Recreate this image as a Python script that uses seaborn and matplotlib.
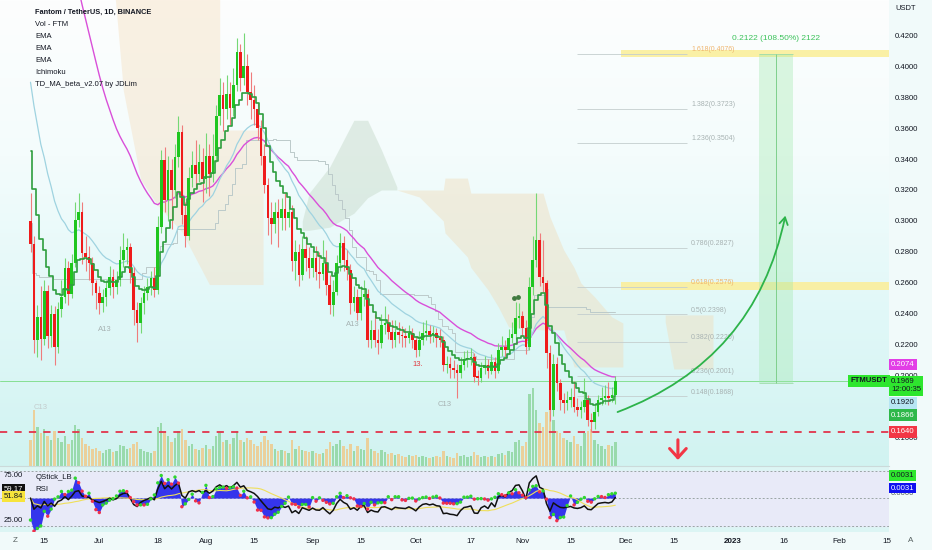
import numpy as np
import pandas as pd
import matplotlib
matplotlib.use("Agg")
import matplotlib.pyplot as plt
import matplotlib.dates as mdates
from matplotlib.colors import LinearSegmentedColormap
from matplotlib.patches import FancyArrowPatch
import seaborn as sns

# ---- values (FTM/USDT daily, Binance) ----
first_day = "2022-06-11"
first_open = 0.300

closes = [
    0.285, 0.223, 0.238, 0.224, 0.255, 0.226, 0.240, 0.219, 0.243, 0.251,
    0.2695, 0.253, 0.2727, 0.3006, 0.306, 0.2793, 0.277, 0.2727, 0.2598, 0.2533,
    0.2469, 0.2512, 0.2565, 0.2641, 0.2576, 0.262, 0.2748, 0.2813, 0.283, 0.2662,
    0.2426, 0.234, 0.2469, 0.2533, 0.2576, 0.263, 0.2555, 0.2963, 0.3393, 0.3135,
    0.3329, 0.320, 0.3415, 0.3576, 0.304, 0.290, 0.3276, 0.336, 0.330, 0.338,
    0.327, 0.342, 0.330, 0.342, 0.368, 0.381, 0.372, 0.382, 0.373, 0.388,
    0.409, 0.392, 0.400, 0.383, 0.378, 0.372, 0.360, 0.342, 0.323, 0.302,
    0.298, 0.306, 0.302, 0.308, 0.302, 0.306, 0.274, 0.280, 0.265, 0.282,
    0.276, 0.2695, 0.2759, 0.2673, 0.266, 0.2727, 0.2587, 0.2458, 0.2544, 0.2727,
    0.2856, 0.2748, 0.2684, 0.2469, 0.2512, 0.2405, 0.2512, 0.2527, 0.2232, 0.2297,
    0.2232, 0.221, 0.2329, 0.234, 0.2286, 0.2232, 0.2286, 0.2265, 0.2255, 0.2245,
    0.2275, 0.2232, 0.2168, 0.2232, 0.2275, 0.2287, 0.2262, 0.2275, 0.2243, 0.2235,
    0.207, 0.2075, 0.2049, 0.204, 0.2017, 0.2071, 0.2107, 0.2114, 0.2125, 0.1996,
    0.199, 0.205, 0.207, 0.2029, 0.2093, 0.203, 0.2168, 0.219, 0.2168, 0.2243,
    0.227, 0.2372, 0.2385, 0.231, 0.219, 0.2576, 0.2748, 0.2877, 0.2641, 0.260,
    0.215, 0.178, 0.208, 0.1953, 0.1845, 0.1824, 0.1845, 0.1866, 0.180, 0.178,
    0.180, 0.1845, 0.1716, 0.170, 0.177, 0.1845, 0.186, 0.187, 0.1855, 0.1875,
    0.1969,
]

highs = [
    0.318, 0.290, 0.246, 0.258, 0.262, 0.259, 0.246, 0.245, 0.248, 0.262,
    0.276, 0.274, 0.279, 0.312, 0.318, 0.312, 0.290, 0.284, 0.277, 0.262,
    0.258, 0.256, 0.262, 0.271, 0.269, 0.268, 0.284, 0.292, 0.289, 0.286,
    0.270, 0.248, 0.251, 0.258, 0.263, 0.268, 0.270, 0.303, 0.346, 0.348,
    0.342, 0.340, 0.350, 0.368, 0.362, 0.312, 0.335, 0.345, 0.352, 0.350,
    0.347, 0.357, 0.350, 0.356, 0.375, 0.392, 0.390, 0.394, 0.390, 0.399,
    0.418, 0.414, 0.421, 0.408, 0.396, 0.388, 0.376, 0.365, 0.350, 0.328,
    0.312, 0.312, 0.314, 0.315, 0.318, 0.314, 0.310, 0.288, 0.285, 0.290,
    0.290, 0.283, 0.282, 0.284, 0.280, 0.288, 0.281, 0.265, 0.262, 0.278,
    0.292, 0.290, 0.281, 0.272, 0.258, 0.256, 0.258, 0.262, 0.256, 0.236,
    0.240, 0.230, 0.240, 0.245, 0.240, 0.236, 0.236, 0.235, 0.232, 0.231,
    0.233, 0.231, 0.226, 0.229, 0.235, 0.236, 0.233, 0.232, 0.231, 0.230,
    0.226, 0.213, 0.212, 0.210, 0.208, 0.212, 0.216, 0.217, 0.218, 0.215,
    0.204, 0.209, 0.213, 0.211, 0.214, 0.212, 0.221, 0.226, 0.223, 0.230,
    0.235, 0.248, 0.247, 0.242, 0.236, 0.264, 0.290, 0.318, 0.292, 0.288,
    0.262, 0.220, 0.214, 0.212, 0.198, 0.189, 0.190, 0.192, 0.197, 0.186,
    0.184, 0.199, 0.188, 0.176, 0.181, 0.188, 0.193, 0.194, 0.196, 0.193,
    0.200,
]

lows = [
    0.280, 0.215, 0.212, 0.210, 0.220, 0.218, 0.219, 0.207, 0.215, 0.238,
    0.247, 0.246, 0.250, 0.270, 0.296, 0.272, 0.268, 0.262, 0.252, 0.243,
    0.240, 0.241, 0.245, 0.252, 0.250, 0.253, 0.258, 0.270, 0.272, 0.260,
    0.233, 0.222, 0.228, 0.240, 0.249, 0.252, 0.251, 0.253, 0.292, 0.306,
    0.300, 0.295, 0.315, 0.335, 0.298, 0.283, 0.288, 0.322, 0.321, 0.325,
    0.312, 0.318, 0.316, 0.325, 0.338, 0.362, 0.358, 0.366, 0.362, 0.368,
    0.384, 0.384, 0.388, 0.375, 0.366, 0.362, 0.352, 0.336, 0.318, 0.291,
    0.285, 0.292, 0.283, 0.294, 0.294, 0.296, 0.268, 0.262, 0.258, 0.262,
    0.268, 0.263, 0.264, 0.262, 0.257, 0.262, 0.252, 0.240, 0.239, 0.252,
    0.268, 0.268, 0.262, 0.240, 0.242, 0.236, 0.236, 0.245, 0.219, 0.218,
    0.219, 0.214, 0.218, 0.227, 0.224, 0.218, 0.219, 0.221, 0.219, 0.219,
    0.221, 0.218, 0.212, 0.213, 0.220, 0.223, 0.221, 0.222, 0.219, 0.219,
    0.203, 0.202, 0.199, 0.199, 0.186, 0.199, 0.204, 0.206, 0.207, 0.196,
    0.194, 0.196, 0.201, 0.199, 0.201, 0.199, 0.202, 0.213, 0.212, 0.215,
    0.221, 0.224, 0.231, 0.226, 0.214, 0.217, 0.252, 0.270, 0.258, 0.254,
    0.205, 0.171, 0.174, 0.190, 0.178, 0.176, 0.178, 0.180, 0.177, 0.174,
    0.173, 0.177, 0.168, 0.164, 0.166, 0.174, 0.181, 0.182, 0.181, 0.183,
    0.182,
]

# volume in millions FTM
volumes = [
    120, 260, 180, 150, 170, 140, 120, 160, 130, 110, 140, 100, 120, 190, 170, 130, 100, 90, 80, 85,
    70, 60, 75, 80, 65, 70, 95, 90, 80, 85, 100, 110, 80, 70, 65, 60, 70, 180, 200, 150,
    140, 110, 130, 160, 170, 120, 90, 100, 80, 75, 85,
    95, 80, 90, 140, 150, 110, 120, 100, 130, 160, 120, 110, 130, 120, 100, 90, 110, 140, 120, 100,
    80, 70, 75, 70, 60, 120, 80, 90, 75, 70, 65,
    70, 60, 55, 60, 80, 110, 90, 100, 120, 90, 80, 100, 70, 90, 80, 75, 130, 80, 70, 60,
    75, 65, 55, 60, 50, 55, 45, 40, 50, 45,
    50, 40, 45, 40, 35, 40, 45, 40, 70, 45, 40, 35, 60, 45, 50, 40, 45, 65, 50, 40,
    45, 40, 45, 40, 55, 60, 50, 70, 65, 110, 120,
    90, 110, 330, 360, 260, 200, 180, 250, 270, 210, 160, 150, 130, 120, 110, 140, 100, 90, 150, 160,
    170, 120, 100, 90, 80, 95, 90, 110,
]

# where each moving average enters the chart at the left edge
ema_slow_start = 0.72
ema_fast_start = 0.40
td_start = 0.36
rsi_seed = 0.008

# ichimoku cloud outline (days after first_day, upper, lower)
cloud1_day = [24, 27, 32, 37, 44, 52, 55, 55, 67.6]
cloud1_top = [0.47, 0.47, 0.47, 0.47, 0.47, 0.47, 0.47, 0.3587, 0.3587]
cloud1_bot = [0.46, 0.384, 0.327, 0.31, 0.293, 0.259, 0.259, 0.259, 0.259]

cloud2_day = [79, 81, 87, 94, 98, 102, 106.5]
cloud2_top = [0.300, 0.318, 0.335, 0.365, 0.365, 0.346, 0.322]
cloud2_bot = [0.294, 0.294, 0.296, 0.305, 0.315, 0.320, 0.320]

cloud3_day = [106.5, 113, 120, 120.5, 127, 128, 133, 136, 139, 149, 151, 155, 158, 160, 164, 169, 172.2]
cloud3_top = [0.320, 0.320, 0.320, 0.3277, 0.3277, 0.318, 0.318, 0.318, 0.318, 0.318,
              0.3026, 0.2813, 0.270, 0.260, 0.251, 0.2381, 0.2342]
cloud3_bot = [0.320, 0.3155, 0.300, 0.2923, 0.2768, 0.270, 0.2555, 0.2445, 0.2316, 0.2297,
              0.2297, 0.2297, 0.2058, 0.2058, 0.2058, 0.2058, 0.2058]

cloud4_day = [184.5, 187, 198.4]
cloud4_top = [0.2394, 0.2394, 0.2394]
cloud4_bot = [0.235, 0.2045, 0.2045]

fib_names = ["1.618", "1.382", "1.236", "0.786", "0.618", "0.5", "0.382", "0.236", "0.148"]
fib_prices = [0.4076, 0.3723, 0.3504, 0.2827, 0.2576, 0.2398, 0.2220, 0.2001, 0.1868]

price_ticks = [0.16, 0.18, 0.20, 0.22, 0.24, 0.26, 0.28, 0.30, 0.32, 0.34, 0.36, 0.38, 0.40, 0.42]
hidden_ticks = [0.18]  # fully covered by the price tags in the chart
date_ticks = ["2022-06-15", "2022-07-01", "2022-07-18", "2022-08-01", "2022-08-15", "2022-09-01",
              "2022-09-15", "2022-10-01", "2022-10-17", "2022-11-01", "2022-11-15", "2022-12-01",
              "2022-12-15", "2023-01-01", "2023-01-16", "2023-02-01", "2023-02-15"]
date_labels = ["15", "Jul", "18", "Aug", "15", "Sep", "15", "Oct", "17", "Nov", "15", "Dec",
               "15", "2023", "16", "Feb", "15"]

support_price = 0.1640
last_price = 0.1969
target_low, target_high = 0.1955, 0.4076

# right-scale tags: text, level on the scale where the tag sits, colours
price_tags = [("0.2074", 0.2074, "#e23ee6", "white"),
              ("0.1920", 0.1826, "#b7e6f4", "#131722"),
              ("0.1866", 0.1748, "#2fb84a", "white"),
              ("0.1640", 0.1640, "#f23645", "white")]

# ---- indicators ----
df = pd.DataFrame({"close": closes, "high": highs, "low": lows, "volume": volumes})
df["date"] = pd.date_range(first_day, periods=len(df), freq="D")
df["open"] = df["close"].shift(1).fillna(first_open)
df["x"] = mdates.date2num(df["date"])
d0 = df["x"].iloc[0]
x = df["x"].to_numpy()
up = (df["close"] >= df["open"]).to_numpy()


def seeded_ema(values, span, start):
    s = pd.Series([start] + list(values))
    return s.ewm(span=span, adjust=False).mean().to_numpy()[1:]


ema_slow = seeded_ema(df["close"], 34, ema_slow_start)
ema_fast = seeded_ema(df["close"], 21, ema_fast_start)
td_line = seeded_ema(df["close"], 9, td_start)
kijun = ((df["high"].rolling(26, min_periods=1).max() + df["low"].rolling(26, min_periods=1).min()) / 2).to_numpy()

delta = df["close"].diff().fillna(0)
gain = seeded_ema(delta.clip(lower=0), 27, rsi_seed)
loss = seeded_ema((-delta).clip(lower=0), 27, rsi_seed)
rsi = 100 - 100 / (1 + gain / loss)
rsi_ma = pd.Series(rsi).rolling(14, min_periods=1).mean().to_numpy()
qstick = (df["close"] - df["open"]).rolling(6, min_periods=1).mean()
q_line = (50 + 1600 * qstick).clip(14, 84).to_numpy()
q_rising = np.r_[True, np.diff(q_line) >= 0]

# ---- layout ----
W, H = 932, 550
px_day0, px_per_day = 30.5, 3.44
right_px, main_bottom_px, rsi_bottom_px = 889, 466, 532
xmin = d0 - px_day0 / px_per_day
xmax = d0 + (right_px - px_day0) / px_per_day
ymin, ymax = 0.1419, 0.4426
vol_top = 2150

sns.set_theme(style="white")
plt.rcParams["font.family"] = ["Liberation Sans", "DejaVu Sans"]

fig = plt.figure(figsize=(W / 100, H / 100), dpi=100, facecolor="#f1fafa")
rect_main = [0, 1 - main_bottom_px / H, right_px / W, main_bottom_px / H]
ax_bg = fig.add_axes(rect_main, zorder=0)
ax = fig.add_axes(rect_main, zorder=1, sharex=ax_bg)
ax.patch.set_alpha(0)
ax_rsi = fig.add_axes([0, 1 - rsi_bottom_px / H, right_px / W, (rsi_bottom_px - main_bottom_px) / H],
                      sharex=ax_bg, zorder=1)

# background gradient + volume
bg_cmap = LinearSegmentedColormap.from_list("bg", ["#d1f3f1", "#e1f8f8", "#f4fcfc", "#fdfefe"])
ax_bg.imshow(np.linspace(0, 1, 256).reshape(-1, 1), cmap=bg_cmap, aspect="auto",
             extent=[xmin, xmax, 0, vol_top], origin="lower", zorder=0)
ax_bg.bar(x, df["volume"], width=0.7, color=np.where(up, "#8fd6a0", "#efca8c"),
          alpha=0.85, linewidth=0, zorder=1)
ax_bg.set_ylim(0, vol_top)
ax_bg.axis("off")

# cloud
for cd, ct, cb, col, a in [(cloud1_day, cloud1_top, cloud1_bot, "#f5d9b4", 0.36),
                           (cloud2_day, cloud2_top, cloud2_bot, "#c9dccd", 0.5),
                           (cloud3_day, cloud3_top, cloud3_bot, "#f0ddbb", 0.45),
                           (cloud4_day, cloud4_top, cloud4_bot, "#f0ddbb", 0.45)]:
    ax.fill_between(np.array(cd) + d0, ct, cb, color=col, alpha=a, linewidth=0, zorder=1)

# ichimoku base line
sns.lineplot(x=x, y=kijun, ax=ax, color="#bccaca", lw=0.7, drawstyle="steps-mid", zorder=2, legend=False)

# horizontal levels
ax.axhline(last_price, color="#86df92", lw=0.7, zorder=2)
ax.axhline(support_price, color="#e2344c", lw=1.3, ls=(0, (4, 4)), zorder=6)

# yellow target zones
ax.fill_between([d0 + 171.7, xmax], 0.4058, 0.4103, color="#fbef9c", alpha=0.9, linewidth=0, zorder=2)
ax.fill_between([d0 + 171.7, xmax], 0.2555, 0.2606, color="#fbef9c", alpha=0.9, linewidth=0, zorder=2)

# fib extension
ax.hlines(fib_prices, d0 + 158.9, d0 + 190.8, colors="#c4cece", lw=0.6, zorder=2)
for name, p in zip(fib_names, fib_prices):
    col = "#efb56e" if name in ("1.618", "0.618") else "#a8b3b3"
    ax.text(d0 + 192.0, p + 0.0005, f"{name}({p:.4f})", fontsize=5.0, color=col,
            ha="left", va="bottom", zorder=3)

# projected move box
ax.fill_between([d0 + 211.8, d0 + 221.7], target_low, target_high, color="#9fe8aa", alpha=0.35,
                linewidth=0, zorder=2)
ax.hlines([target_low, target_high], d0 + 211.8, d0 + 221.7, colors="#9fdcaa", lw=0.6, zorder=2)
ax.vlines(d0 + 216.7, target_low, target_high, colors="#7fcf8c", lw=0.7, zorder=2)
ax.text(d0 + 216.7, 0.4175, "0.2122 (108.50%) 2122", fontsize=6.0, color="#3cc25a",
        ha="center", va="center", zorder=3)

# moving averages
sns.lineplot(x=x, y=ema_slow, ax=ax, color="#d94fd9", lw=1.0, zorder=3, legend=False)
sns.lineplot(x=x, y=ema_fast, ax=ax, color="#9fd3e0", lw=0.9, zorder=3, legend=False)

# candles
wick_col = np.where(up, "#75d875", "#ef7c7c")
body_col = np.where(up, "#1fc61f", "#ef1b1b")
ax.vlines(x, df["low"], df["high"], colors=wick_col, lw=0.8, zorder=4)
body = (df["close"] - df["open"]).abs().clip(lower=0.0008)
ax.bar(x, body, bottom=np.minimum(df["open"], df["close"]), width=0.76, color=body_col,
       linewidth=0, zorder=5)

sns.lineplot(x=x, y=td_line, ax=ax, color="#2e9e3e", lw=1.2, drawstyle="steps-mid", zorder=6, legend=False)

# TD labels on chart
for txt, day, p, col in [("A13", 21.7, 0.2297, "#a6b2b2"), ("A13", 93.8, 0.2335, "#a6b2b2"),
                         ("13.", 112.7, 0.2077, "#e0393e"), ("C13", 120.5, 0.1819, "#a6b2b2"),
                         ("C13", 2.8, 0.1794, "#c3cccc")]:
    ax.text(d0 + day, p, txt, fontsize=5.5, color=col, ha="center", va="center", zorder=7)
ax.scatter([d0 + 140.6, d0 + 141.8], [0.2503, 0.2512], s=6, color="#3f7a3f", zorder=7)

# arrows
ax.add_patch(FancyArrowPatch((d0 + 169.9, 0.1761), (d0 + 219.6, 0.3052),
                             connectionstyle="arc3,rad=0.28", arrowstyle="->,head_length=5,head_width=3",
                             color="#2db34a", lw=1.3, zorder=8))
ax.annotate("", xy=(d0 + 188.2, 0.1440), xytext=(d0 + 188.2, 0.1606),
            arrowprops=dict(arrowstyle="->,head_length=0.55,head_width=0.5", color="#f23645", lw=2.2),
            zorder=8)

ax.set_xlim(xmin, xmax)
ax.set_ylim(ymin, ymax)
ax.set_xlabel("")
ax.set_ylabel("")
for s in ax.spines.values():
    s.set_visible(False)
ax.yaxis.tick_right()
ax.set_yticks(price_ticks)
ax.set_yticklabels(["" if v in hidden_ticks else f"{v:.4f}" for v in price_ticks])
ax.tick_params(axis="y", length=0, pad=4, labelsize=5.6, labelcolor="#131722")
ax.tick_params(axis="x", bottom=False, labelbottom=False)

# right price tags
yx = ax.get_yaxis_transform()
for txt, p, bg, fg in price_tags:
    ax.text(891 / right_px, p, txt, transform=yx, fontsize=5.6, color=fg, ha="left", va="center",
            bbox=dict(boxstyle="square,pad=0.3", fc=bg, ec="none"), zorder=10, clip_on=False)
ax.annotate("0.1969\n12:00:35", xy=(891 / right_px, last_price), xycoords=yx, xytext=(0, -3.5),
            textcoords="offset points", fontsize=5.6, color="#131722", ha="left", va="center",
            linespacing=1.25, bbox=dict(boxstyle="square,pad=0.3", fc="#2ee62e", ec="none"),
            zorder=10, annotation_clip=False)
ax.text(0.998, last_price, "FTMUSDT", transform=yx, fontsize=5.6, color="#131722", ha="right",
        va="center", fontweight="bold", bbox=dict(boxstyle="square,pad=0.3", fc="#2ee62e", ec="none"),
        zorder=10)

# ---- lower pane: QStick + RSI ----
ax_rsi.set_facecolor("#dcf5f4")
ax_rsi.axhspan(20, 80, color="#e8eaf8", zorder=0)
for lvl in (80, 50, 20):
    ax_rsi.axhline(lvl, color="#9aa5a5", lw=0.7, ls=(0, (2, 2)), zorder=1)
ax_rsi.fill_between(x, 50, q_line, color="#3535ec", linewidth=0, zorder=2)
sns.lineplot(x=x, y=rsi_ma, ax=ax_rsi, color="#efdf5a", lw=0.8, zorder=3, legend=False)
sns.lineplot(x=x, y=rsi, ax=ax_rsi, color="#111111", lw=1.1, zorder=4, legend=False)
ax_rsi.scatter(x, q_line, s=6, c=np.where(q_rising, "#2fd62f", "#f0304a"), linewidths=0, zorder=5)
ax_rsi.set_ylim(13, 85)
ax_rsi.set_xlim(xmin, xmax)
ax_rsi.set_xlabel("")
ax_rsi.set_ylabel("")
for name, s in ax_rsi.spines.items():
    s.set_visible(name == "top")
ax_rsi.spines["top"].set_color("#cbdada")
ax_rsi.spines["top"].set_linewidth(0.8)
ax_rsi.set_yticks([])
ax_rsi.set_xticks(mdates.date2num(pd.to_datetime(date_ticks)))
ax_rsi.set_xticklabels(date_labels)
ax_rsi.tick_params(axis="x", length=0, pad=4, labelsize=5.8, labelcolor="#131722")
for lbl in ax_rsi.get_xticklabels():
    if lbl.get_text() == "2023":
        lbl.set_fontweight("bold")

ry = ax_rsi.get_yaxis_transform()
ax_rsi.text(0.004, 75, "75.00", transform=ry, fontsize=5.6, color="#131722", va="center")
ax_rsi.text(0.004, 25, "25.00", transform=ry, fontsize=5.6, color="#131722", va="center")
ax_rsi.text(0.004, 59.17, "59.17", transform=ry, fontsize=5.6, color="white", va="center",
            bbox=dict(boxstyle="square,pad=0.25", fc="#111111", ec="none"), zorder=8)
ax_rsi.text(0.004, 51.84, "51.84", transform=ry, fontsize=5.6, color="#131722", va="center",
            bbox=dict(boxstyle="square,pad=0.25", fc="#f7e43c", ec="none"), zorder=8)
ax_rsi.text(0.04, 0.82, "QStick_LB", transform=ax_rsi.transAxes, fontsize=5.6, color="#131722", va="center")
ax_rsi.text(0.04, 0.64, "RSI", transform=ax_rsi.transAxes, fontsize=5.6, color="#131722", va="center")
ax_rsi.text(891 / right_px, 55, "0.0000", transform=ry, fontsize=5.6, color="#555f5f", va="center",
            clip_on=False)
ax_rsi.text(891 / right_px, 61, "0.0031", transform=ry, fontsize=5.6, color="white", va="center",
            bbox=dict(boxstyle="square,pad=0.25", fc="#1010f0", ec="none"), clip_on=False, zorder=9)
ax_rsi.text(891 / right_px, 75, "0.0031", transform=ry, fontsize=5.6, color="#131722", va="center",
            bbox=dict(boxstyle="square,pad=0.25", fc="#2ee62e", ec="none"), clip_on=False, zorder=9)

# ---- header texts ----
fig.text(35 / W, 1 - 12 / H, "Fantom / TetherUS, 1D, BINANCE", fontsize=5.3, fontweight="bold",
         color="#131722", va="center")
for k, line in enumerate(["Vol - FTM", "EMA", "EMA", "EMA", "Ichimoku", "TD_MA_beta_v2.07 by JDLim"]):
    fig.text(35 / W, 1 - (24 + 12 * k) / H, line, fontsize=5.5, color="#131722", va="center")
fig.text(895 / W, 1 - 9 / H, "USDT", fontsize=5.4, color="#131722", va="center")
fig.text(15 / W, 1 - 541 / H, "Z", fontsize=5.8, color="#555f5f", va="center", ha="center")
fig.text(911 / W, 1 - 541 / H, "A", fontsize=5.8, color="#555f5f", va="center", ha="center")

fig.savefig("out.png", dpi=100, facecolor=fig.get_facecolor())
